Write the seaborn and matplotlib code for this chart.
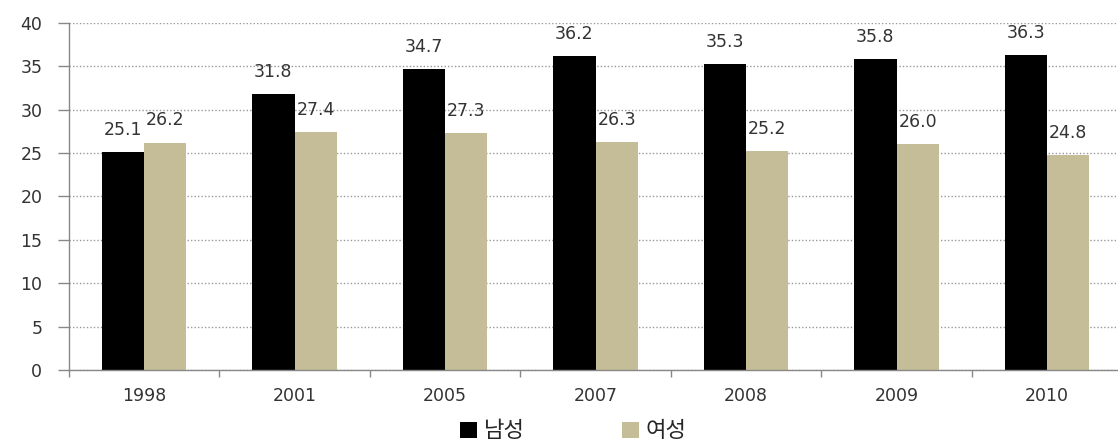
import matplotlib
matplotlib.use("Agg")
import matplotlib.pyplot as plt
import seaborn as sns
import pandas as pd
from matplotlib.patches import Patch

years = ["1998", "2001", "2005", "2007", "2008", "2009", "2010"]
male = [25.1, 31.8, 34.7, 36.2, 35.3, 35.8, 36.3]
female = [26.2, 27.4, 27.3, 26.3, 25.2, 26.0, 24.8]
series = ["남성", "여성"]
colors = ["#000000", "#C4BD97"]

df = pd.DataFrame({
    "year": years * 2,
    "value": male + female,
    "sex": [series[0]] * len(years) + [series[1]] * len(years),
})

sns.set_style("white")
plt.rcParams["font.family"] = ["DejaVu Sans", "Noto Sans CJK KR"]

fig = plt.figure(figsize=(11.18, 4.42), dpi=100)
ax = fig.add_axes([0.0615, 0.163, 0.9423, 0.785])

sns.barplot(data=df, x="year", y="value", hue="sex", palette=colors,
            width=0.56, gap=0, saturation=1, linewidth=0, ax=ax, legend=False)

txt = "#333333"
for cont in ax.containers:
    for bar in cont:
        h = bar.get_height()
        ax.annotate(f"{h:.1f}", (bar.get_x() + bar.get_width() / 2, h),
                    xytext=(0, 16), textcoords="offset points",
                    ha="center", va="center", fontsize=12.5, color=txt)

ax.set_ylim(0, 40)
ax.set_xlim(-0.5, len(years) - 0.5)
ax.set_yticks(range(0, 41, 5))
ax.yaxis.grid(True, linestyle=(0, (1, 1.5)), color="#999999", linewidth=1)
ax.set_axisbelow(True)

ax.set_xticks(range(len(years)))
ax.set_xticklabels(years)
ax.set_xticks([i - 0.5 for i in range(len(years) + 1)], minor=True)
ax.tick_params(axis="x", which="major", length=0, pad=12, labelsize=12.5, labelcolor=txt)
ax.tick_params(axis="x", which="minor", length=5, width=1, color="#888888", direction="out", bottom=True)
ax.tick_params(axis="y", length=8, width=1, color="#888888", direction="out", left=True,
               pad=11, labelsize=12.5, labelcolor=txt)

for s in ["top", "right"]:
    ax.spines[s].set_visible(False)
for s in ["left", "bottom"]:
    ax.spines[s].set_color("#888888")
    ax.spines[s].set_linewidth(1)

ax.set_xlabel("")
ax.set_ylabel("")

handles = [Patch(facecolor=c, edgecolor="none") for c in colors]
fig.legend(handles, series, loc="center", bbox_to_anchor=(0.513, 0.025), ncol=2,
           frameon=False, handlelength=0.75, handleheight=0.75,
           handletextpad=0.3, columnspacing=4.4,
           prop={"family": ["Noto Sans CJK KR", "DejaVu Sans"], "size": 16})

fig.savefig("out.png", dpi=100)
